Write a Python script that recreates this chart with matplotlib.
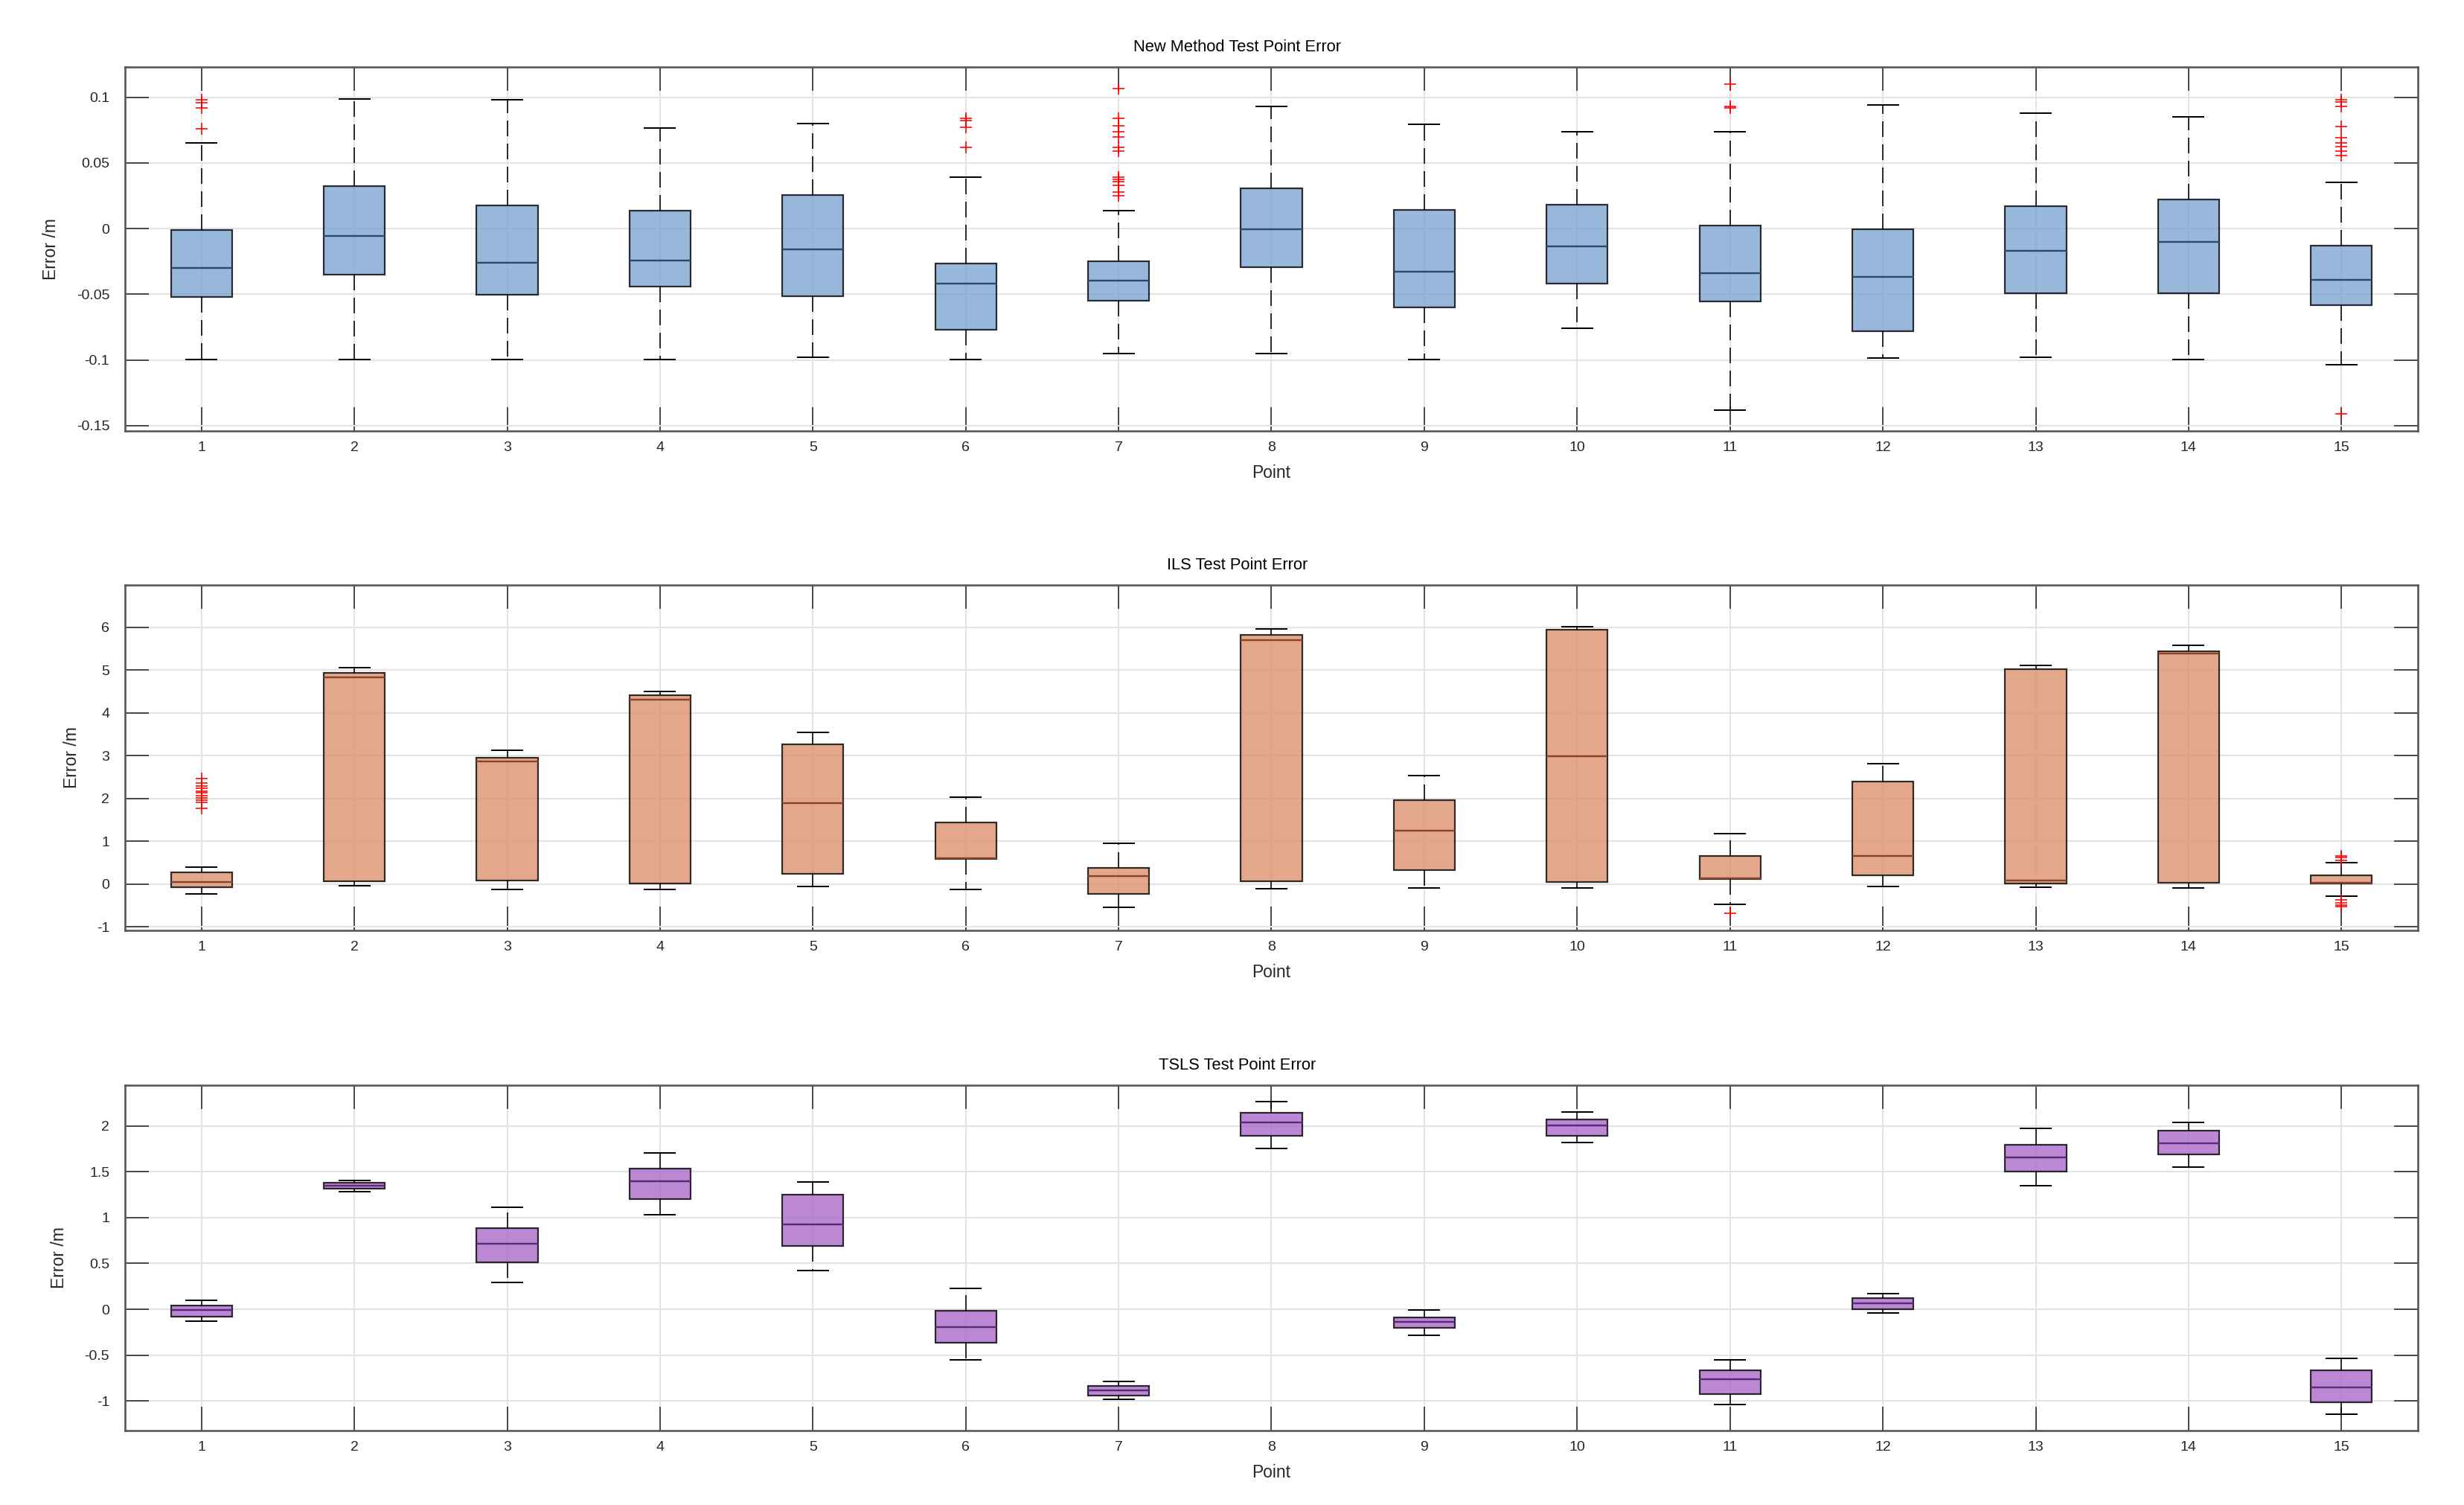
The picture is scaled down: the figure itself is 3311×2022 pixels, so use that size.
import matplotlib
matplotlib.use("Agg")
import matplotlib.pyplot as plt
from matplotlib.ticker import FormatStrFormatter, FuncFormatter

plt.rcParams['font.family'] = ['Liberation Sans', 'DejaVu Sans']
plt.rcParams['axes.unicode_minus'] = False
plt.rcParams['lines.scale_dashes'] = False

points = list(range(1, 16))

# ---- New Method ----
nm_whislo = [-0.0998, -0.0995, -0.0998, -0.0998, -0.0981, -0.0998, -0.0951, -0.0953, -0.0998, -0.0761, -0.138, -0.0986, -0.0981, -0.0998, -0.1035]
nm_q1 = [-0.0523, -0.0352, -0.0505, -0.0441, -0.0516, -0.077, -0.0547, -0.0293, -0.0599, -0.042, -0.0556, -0.0779, -0.0493, -0.0493, -0.058]
nm_med = [-0.030, -0.0056, -0.0258, -0.0244, -0.0155, -0.042, -0.0397, -0.0007, -0.0326, -0.0134, -0.034, -0.0369, -0.0167, -0.0099, -0.0392]
nm_q3 = [-0.0012, 0.0322, 0.0176, 0.0134, 0.0258, -0.0268, -0.0246, 0.0305, 0.0141, 0.0181, 0.0026, -0.0007, 0.0169, 0.0221, -0.0127]
nm_whishi = [0.065, 0.0986, 0.0979, 0.0763, 0.0798, 0.0394, 0.0139, 0.0932, 0.0791, 0.0737, 0.0739, 0.0939, 0.0876, 0.0852, 0.0352]
nm_fliers = [
    [0.098, 0.096, 0.092, 0.076], [], [], [], [],
    [0.084, 0.082, 0.077, 0.062],
    [0.1066, 0.084, 0.078, 0.074, 0.070, 0.062, 0.059, 0.039, 0.0375, 0.0357, 0.033, 0.028, 0.025],
    [], [], [],
    [0.110, 0.093, 0.092],
    [], [], [],
    [0.098, 0.0965, 0.093, 0.0775, 0.069, 0.0655, 0.0625, 0.059, 0.0555, -0.141],
]

# ---- ILS ----
ils_whislo = [-0.224, -0.043, -0.13, -0.115, -0.058, -0.115, -0.534, -0.10, -0.087, -0.087, -0.469, -0.058, -0.065, -0.094, -0.281]
ils_q1 = [-0.065, 0.065, 0.079, 0.022, 0.245, 0.584, -0.231, 0.065, 0.332, 0.05, 0.123, 0.209, 0.014, 0.036, 0.014]
ils_med = [0.058, 4.83, 2.86, 4.32, 1.90, 0.60, 0.187, 5.71, 1.255, 2.985, 0.144, 0.656, 0.087, 5.39, 0.036]
ils_q3 = [0.281, 4.93, 2.96, 4.41, 3.27, 1.45, 0.382, 5.83, 1.97, 5.94, 0.663, 2.39, 5.02, 5.44, 0.209]
ils_whishi = [0.404, 5.06, 3.13, 4.51, 3.55, 2.03, 0.952, 5.96, 2.54, 6.02, 1.175, 2.81, 5.11, 5.58, 0.498]
ils_fliers = [
    [2.47, 2.37, 2.30, 2.24, 2.18, 2.13, 2.07, 2.02, 1.96, 1.91, 1.77],
    [], [], [], [], [], [], [], [], [],
    [-0.68],
    [], [], [],
    [0.66, 0.63, 0.56, -0.37, -0.43, -0.48, -0.53],
]

# ---- TSLS ----
ts_whislo = [-0.132, 1.285, 0.293, 1.035, 0.422, -0.553, -0.981, 1.754, -0.283, 1.821, -1.039, -0.037, 1.346, 1.555, -1.147]
ts_q1 = [-0.078, 1.319, 0.513, 1.204, 0.691, -0.368, -0.944, 1.892, -0.202, 1.895, -0.924, 0.0, 1.504, 1.693, -1.019]
ts_med = [-0.010, 1.349, 0.712, 1.396, 0.924, -0.196, -0.884, 2.037, -0.138, 2.010, -0.766, 0.067, 1.659, 1.808, -0.850]
ts_q3 = [0.040, 1.379, 0.887, 1.538, 1.251, -0.017, -0.840, 2.148, -0.091, 2.074, -0.664, 0.121, 1.798, 1.946, -0.664]
ts_whishi = [0.098, 1.406, 1.113, 1.707, 1.393, 0.226, -0.789, 2.27, -0.010, 2.152, -0.553, 0.169, 1.976, 2.037, -0.536]
ts_fliers = [[] for _ in range(15)]

titles = ["New Method Test Point Error", "ILS Test Point Error", "TSLS Test Point Error"]
ylims = [(-0.154, 0.123), (-1.08, 6.99), (-1.324, 2.445)]
yticks = [[-0.15, -0.1, -0.05, 0, 0.05, 0.1], [-1, 0, 1, 2, 3, 4, 5, 6], [-1, -0.5, 0, 0.5, 1, 1.5, 2]]
face_colors = ['#7da5d2', '#dd936f', '#ab6bc9']
median_colors = ['#2c4a70', '#8a4326', '#5a2a78']

panels = [
    (nm_whislo, nm_q1, nm_med, nm_q3, nm_whishi, nm_fliers),
    (ils_whislo, ils_q1, ils_med, ils_q3, ils_whishi, ils_fliers),
    (ts_whislo, ts_q1, ts_med, ts_q3, ts_whishi, ts_fliers),
]

W, H = 3312, 2022
DPI = 200
fig = plt.figure(figsize=(W / DPI, H / DPI), dpi=DPI)

# axes boxes in pixels: (top, bottom)
left_px, right_px = 168, 3249
rows_px = [(90, 579), (786, 1250), (1458, 1922)]

px = 72.0 / DPI  # points per pixel

for i, (lo, q1, med, q3, hi, fl) in enumerate(panels):
    top, bot = rows_px[i]
    ax = fig.add_axes([left_px / W, 1 - bot / H, (right_px - left_px) / W, (bot - top) / H])
    stats = []
    for j in range(15):
        stats.append(dict(whislo=lo[j], q1=q1[j], med=med[j], q3=q3[j], whishi=hi[j], fliers=fl[j]))
    ax.bxp(stats, positions=points, widths=0.4, patch_artist=True, manage_ticks=False,
           boxprops=dict(facecolor=face_colors[i], edgecolor='black', linewidth=2.2 * px, alpha=0.8),
           whiskerprops=dict(color='black', linewidth=1.6 * px, linestyle=(0, (21 * px, 10 * px))),
           capprops=dict(color='black', linewidth=2.0 * px),
           medianprops=dict(color=median_colors[i], linewidth=2.4 * px),
           flierprops=dict(marker='+', markeredgecolor='red', markerfacecolor='none',
                           markersize=16 * px, markeredgewidth=1.6 * px, linestyle='none'))
    # re-draw box edges opaque
    for p in ax.patches:
        p.set_edgecolor((0, 0, 0, 1))
    ax.set_xlim(0.5, 15.5)
    ax.set_ylim(*ylims[i])
    ax.set_xticks(points)
    ax.set_xticklabels([str(p) for p in points])
    ax.set_yticks(yticks[i])
    ax.yaxis.set_major_formatter(FuncFormatter(lambda v, pos: ('%g' % v)))
    ax.grid(True, color='#e3e3e3', linewidth=2.0 * px)
    ax.tick_params(axis='both', direction='in', top=True, right=True,
                   length=32 * px, width=1.6 * px, color='#262626', labelsize=7.0, labelcolor='#262626')
    ax.tick_params(axis='x', pad=5)
    ax.tick_params(axis='y', pad=7.5)
    for s in ax.spines.values():
        s.set_color('#555555')
        s.set_linewidth(2.6 * px)
    ax.set_title(titles[i], fontsize=7.9, x=0.485, pad=7.5, color='black')
    ax.set_xlabel('Point', fontsize=8.2, labelpad=5, color='#262626')
    ax.set_ylabel('Error /m', fontsize=8.3, labelpad=8, color='#262626')

fig.savefig('out.png', dpi=DPI)
